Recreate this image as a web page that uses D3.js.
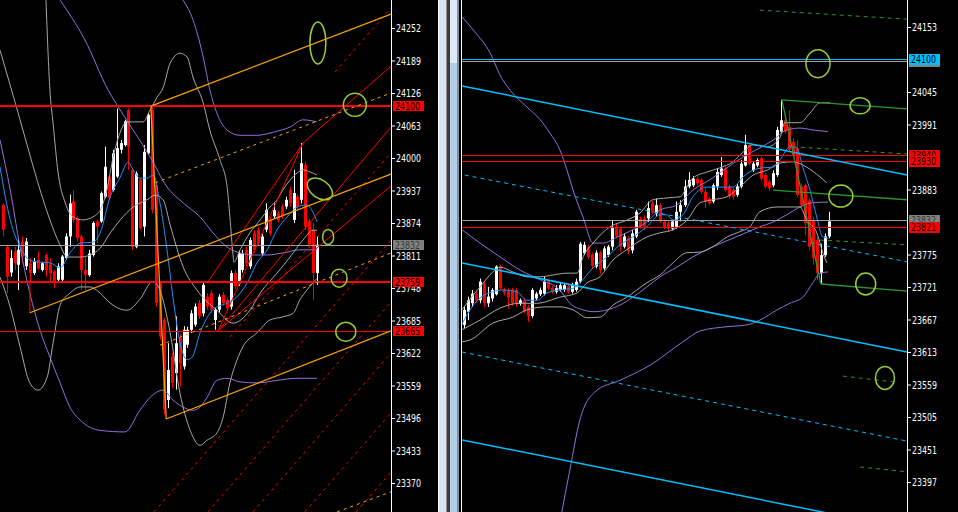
<!DOCTYPE html>
<html>
<head>
<meta charset="utf-8">
<script src="https://cdn.jsdelivr.net/npm/d3@7"></script>
<style>
  body { margin: 0; background: #000; overflow: hidden; }
  svg { display: block; }
</style>
</head>
<body>
<script>
/*global d3 */

var width = 958,
    height = 512;

// ---------------- left chart (higher time frame) ----------------
var leftTicks = [24252, 24189, 24126, 24063, 24000, 23937, 23874, 23811, 23748, 23685, 23622, 23559, 23496, 23433, 23370];

// [open, high, low, close]
var leftCandles = [
    [23909,23912,23848,23861],[23828,23832,23738,23770],[23778,23822,23770,23806],[23819,23828,23783,23796],
    [23793,23845,23744,23822],[23838,23848,23796,23809],[23790,23845,23783,23838],[23796,23806,23757,23777],
    [23777,23806,23773,23799],[23803,23819,23783,23786],[23783,23799,23780,23796],[23812,23815,23770,23783],
    [23796,23806,23761,23777],[23780,23783,23748,23761],[23764,23796,23761,23790],[23764,23812,23761,23809],
    [23806,23854,23803,23848],[23848,23929,23828,23912],[23916,23938,23874,23880],[23883,23887,23838,23845],
    [23848,23851,23744,23783],[23783,23809,23744,23773],[23773,23822,23770,23815],[23812,23877,23809,23874],
    [23877,23880,23835,23867],[23877,23935,23874,23932],[23925,24022,23922,23983],[23964,23967,23919,23922],
    [23938,24016,23935,24009],[23964,24096,23961,24019],[24016,24035,24009,24029],[24025,24074,24022,24071],
    [24093,24096,23977,24022],[23977,23980,23822,23828],[23828,23974,23825,23970],[23958,23961,23861,23864],
    [23867,24025,23848,24012],[24009,24087,24006,24084],[24093,24100,23893,23899],[23948,23951,23712,23719],
    [23757,23760,23648,23654],[23686,23690,23502,23512],[23531,23641,23515,23589],[23615,23622,23554,23564],
    [23583,23693,23551,23641],[23651,23660,23557,23602],[23596,23674,23590,23667],[23638,23673,23632,23667],
    [23667,23705,23661,23699],[23677,23718,23673,23712],[23719,23725,23688,23693],[23699,23760,23693,23754],
    [23731,23738,23706,23712],[23738,23744,23700,23706],[23686,23710,23667,23706],[23706,23736,23700,23731],
    [23735,23740,23714,23719],[23725,23730,23704,23709],[23712,23782,23706,23777],[23777,23783,23746,23751],
    [23757,23820,23752,23815],[23783,23822,23778,23815],[23822,23828,23790,23796],[23790,23846,23785,23841],
    [23854,23860,23816,23822],[23861,23866,23830,23835],[23815,23853,23810,23848],[23861,23912,23856,23899],
    [23880,23886,23849,23854],[23887,23912,23882,23899],[23893,23898,23875,23880],[23906,23911,23882,23887],
    [23906,23925,23901,23919],[23938,23944,23906,23912],[23880,23977,23874,23932],[23925,23930,23900,23906],
    [23919,24029,23912,23990],[23987,23993,23861,23867],[23877,23882,23826,23832],[23861,23874,23725,23777],
    [23777,23848,23754,23832]
];

// indicator curves, [bar index, price]
var leftMA = [[-0.7,23983],[1.9,23880],[4.4,23828],[6.9,23802],[9.5,23798],[12,23797],[14.6,23787],[17.1,23816],
    [19.7,23835],[23,23837],[24.8,23855],[27.3,23924],[29.9,23963],[31.9,23992],[33.2,23977],[34.9,23961],[36.7,23961],
    [38.3,23967],[40,23913],[41.8,23822],[43.3,23731],[45.1,23642],[46.9,23609],[48.2,23614],[50.2,23661],[53.5,23706],
    [57.1,23719],[59.6,23731],[62.2,23758],[64.7,23797],[67.3,23822],[69.8,23861],[72.4,23886],[74.9,23905],[77.4,23909],
    [79,23894],[80,23876]];
var leftUpperBand = [[11,24306],[12,24132],[12.8,24068],[14.1,23971],[15.9,23913],[17.9,23886],[20.4,23880],[23,23886],
    [24.8,23899],[26.5,23938],[28.1,24002],[29.8,24048],[31.6,24070],[34.2,24070],[35.7,24070],[37.5,24093],[39.3,24118],
    [40.8,24136],[42.6,24184],[45.1,24203],[46.9,24196],[48.4,24157],[51,24107],[52.7,24054],[55.3,23996],[57.1,23944],
    [57.8,23886],[58.6,23812],[58.8,23798],[60.4,23822],[62.9,23855],[65.5,23880],[68,23905],[69.8,23919],[71.3,23938],
    [73.1,23957],[74.9,23971],[76.4,23977],[78.2,23973],[80,23967]];
var leftMidBand = [[-0.7,24209],[1.9,24141],[4.4,24074],[6.9,24006],[9.5,23938],[12,23880],[14.6,23831],[16.4,23808],
    [19.7,23808],[22.2,23812],[24.8,23825],[27.3,23854],[29.9,23880],[33.2,23905],[36.7,23919],[38.8,23928],[40.8,23919],
    [42.6,23870],[45.9,23789],[49.4,23744],[54.5,23705],[58.6,23680],[62.9,23705],[65.5,23738],[69.8,23777],[73.1,23808],
    [76.4,23841],[79,23860],[80,23860]];
var leftLowerBand = [[-0.7,23769],[1.9,23711],[4.4,23634],[6.9,23564],[9,23550],[11.3,23575],[12.8,23641],[14.6,23715],
    [17.1,23738],[19.7,23750],[22.2,23750],[24.8,23738],[27.3,23719],[31.6,23705],[34.9,23726],[38.2,23761],[40,23744],
    [42.6,23661],[45.1,23544],[47.7,23472],[50.2,23443],[52,23453],[54.5,23467],[56.1,23498],[57.8,23564],[59.6,23608],
    [61.1,23634],[64.7,23661],[68,23686],[71.3,23692],[73.9,23699],[75.6,23725],[77.4,23744],[79,23759],[80,23767]];
var leftEnvUpper = [[14.6,24306],[20.9,24229],[26.8,24132],[29.9,24093],[37.5,24002],[41.8,23944],[45.9,23913],
    [50.2,23886],[53.5,23855],[57.1,23827],[60.4,23816],[63.7,23812],[67.3,23812],[71.3,23816],[75.6,23822],[80,23822]];
var leftEnvTop = [[45.9,24306],[48.4,24268],[51,24196],[52.7,24132],[54.5,24087],[57.1,24054],[60.4,24044],[64.7,24044],
    [68.8,24050],[73.1,24060],[76.4,24074],[80,24070]];
var leftEnvLower = [[-0.7,24035],[1.9,23938],[4.4,23827],[6.9,23738],[9.5,23666],[12,23614],[14.6,23564],[17.1,23517],
    [19.7,23492],[24.8,23472],[31.1,23469],[34.9,23511],[37.5,23536],[40.8,23550],[43.3,23531],[45.9,23517],[48.4,23511],
    [50.2,23517],[52,23536],[54.5,23569],[57.1,23573],[60.4,23566],[64.7,23564],[69.8,23569],[74.9,23573],[80,23573]];

// drawn objects
var leftRedLevels = [24100, 23759];
var leftThinRedLevels = [23665];
var leftGrayLevels = [23832];
var leftOrangeSolid = [
    [[37.5,24100],[98.8,24279]],
    [[37.7,24098],[41.6,23494]],
    [[41.6,23494],[98.8,23665]],
    [[6.9,23700],[98.8,23969]]
];
var leftOrangeDashed = [
    [[38.8,23952],[98.8,24126]],
    [[40,23637],[98.8,23816]],
    [[85.1,23314],[98.8,23353]]
];
var leftRedSolid = [
    [[6.9,23759],[6.9,23700]],
    [[52,23758],[76.4,24029]],
    [[54.8,23665],[76.4,24029]],
    [[76.4,24029],[98.8,24178]],
    [[54.8,23665],[98.8,23946]],
    [[54.8,23665],[98.8,24060]]
];
var leftRedDashed = [
    [[84.6,24167],[98.8,24291]],
    [[57.8,23653],[98.8,24010]],
    [[38.5,23314],[98.8,23841]],
    [[52.2,23314],[98.8,23721]],
    [[63.7,23314],[98.8,23622]],
    [[76.9,23314],[98.8,23506]],
    [[89.9,23314],[98.8,23391]]
];
var leftRings = [[80.2,24223],[89.6,24103],[80.7,23940],[82.8,23847],[85.6,23767],[87.3,23663]];
var leftTags = [24100, 23832, 23759, 23665];

// ---------------- right chart (lower time frame) ----------------
// labels hidden under the price tags (24099, 23937, 23829) are left out
var rightTicks = [24153, 24045, 23991, 23883, 23775, 23721, 23667, 23613, 23559, 23505, 23451, 23397];

var rightCandles = [
    [23658,23688,23652,23683],[23680,23705,23666,23699],[23694,23716,23688,23710],[23709,23713,23694,23699],
    [23699,23735,23694,23730],[23727,23730,23688,23694],[23694,23721,23688,23705],[23702,23719,23697,23716],
    [23709,23757,23707,23755],[23755,23758,23716,23719],[23717,23720,23707,23711],[23716,23719,23685,23704],
    [23717,23720,23690,23694],[23716,23719,23688,23694],[23693,23702,23690,23699],[23699,23703,23677,23680],
    [23688,23691,23663,23672],[23673,23719,23670,23716],[23702,23713,23699,23710],[23709,23720,23706,23716],
    [23710,23738,23707,23730],[23730,23733,23716,23719],[23720,23723,23710,23713],[23713,23724,23710,23719],
    [23716,23728,23713,23724],[23716,23727,23713,23724],[23723,23727,23710,23713],[23713,23728,23710,23724],
    [23716,23735,23713,23730],[23730,23796,23727,23793],[23777,23796,23774,23791],[23788,23791,23768,23771],
    [23775,23778,23752,23756],[23755,23782,23752,23778],[23778,23781,23743,23749],[23752,23789,23749,23785],
    [23774,23791,23771,23788],[23788,23832,23782,23821],[23821,23827,23802,23805],[23818,23821,23780,23788],
    [23788,23810,23785,23805],[23802,23806,23776,23780],[23782,23816,23777,23810],[23805,23849,23802,23846],
    [23835,23838,23818,23821],[23835,23840,23816,23821],[23835,23863,23829,23852],[23860,23864,23843,23846],
    [23843,23868,23838,23857],[23857,23860,23827,23830],[23830,23833,23818,23821],[23827,23830,23813,23818],
    [23818,23833,23815,23830],[23821,23863,23818,23846],[23846,23865,23830,23857],[23857,23899,23854,23888],
    [23888,23912,23885,23899],[23890,23905,23887,23901],[23901,23905,23890,23893],[23899,23902,23876,23879],
    [23879,23885,23852,23863],[23868,23871,23857,23860],[23863,23893,23860,23890],[23888,23918,23882,23912],
    [23907,23937,23904,23918],[23918,23921,23879,23882],[23888,23891,23868,23872],[23882,23885,23866,23871],
    [23874,23892,23871,23888],[23888,23932,23885,23926],[23923,23974,23921,23957],[23957,23960,23923,23926],
    [23915,23929,23912,23926],[23923,23935,23920,23932],[23935,23938,23898,23901],[23907,23910,23885,23888],
    [23896,23899,23881,23885],[23890,23915,23887,23910],[23907,23987,23904,23982],[23979,24032,23976,23998],
    [23998,24001,23976,23979],[23987,24015,23946,23949],[23962,23968,23937,23940],[23951,23965,23871,23874],
    [23888,23893,23852,23857],[23890,23893,23807,23827],[23865,23869,23782,23788],[23832,23838,23758,23769],
    [23799,23804,23732,23744],[23744,23793,23727,23774],[23774,23810,23771,23805],[23805,23846,23802,23830]
];

var rightMA = [[-1,23653],[1.5,23683],[4,23703],[7.2,23713],[9.7,23716],[13.2,23713],[15.7,23699],[18.2,23699],
    [20.7,23711],[23.9,23716],[27.2,23719],[28.9,23728],[32.2,23753],[35.7,23771],[38.9,23791],[42.1,23804],[45.6,23821],
    [48.9,23841],[50.6,23841],[52.1,23832],[54.6,23841],[57.1,23871],[60.6,23887],[63.8,23887],[67.1,23887],[69.6,23904],
    [72.1,23915],[74.6,23919],[77.1,23920],[78.8,23932],[81.3,23954],[83,23952],[84.5,23920],[86.3,23882],[88,23837],
    [89.5,23804],[91,23802]];
var rightUpperBand = [[-0.5,23683],[0.7,23694],[4,23721],[7.2,23746],[9,23754],[12.2,23746],[15.7,23738],[19,23738],
    [22.2,23741],[25.7,23744],[28.2,23744],[29.7,23771],[32.2,23794],[36.4,23821],[40.6,23832],[43.9,23844],[47.1,23866],
    [50.6,23869],[53.9,23871],[55.6,23887],[57.1,23902],[60.6,23912],[63.8,23919],[67.1,23929],[69.6,23945],[72.1,23957],
    [75.6,23954],[78.8,23969],[80,23994],[83.8,23994],[86.3,24010],[88.8,24027],[91.3,24027]];
var rightMidBand = [[-0.5,23650],[4,23666],[9,23686],[14,23694],[18.2,23694],[23.9,23704],[28.2,23711],[30.7,23728],
    [33.9,23738],[37.2,23766],[40.6,23783],[45.6,23804],[48.9,23811],[52.1,23816],[55.6,23832],[58.9,23861],[62.1,23866],
    [65.6,23871],[68.8,23887],[72.1,23907],[75.6,23915],[78.8,23927],[82,23929],[85.5,23920],[88.8,23904],[90.5,23894]];
var rightLowerBand = [[-0.5,23630],[1.5,23633],[7.2,23661],[12.2,23671],[15.7,23683],[20.7,23688],[23.9,23688],
    [27.2,23683],[30.7,23670],[33.9,23671],[37.2,23691],[40.6,23704],[45.6,23728],[48.9,23741],[52.1,23761],[55.6,23778],
    [58.9,23779],[62.1,23788],[65.6,23804],[68.8,23813],[71.3,23821],[73.8,23846],[78.1,23854],[83.8,23854],[85.5,23832],
    [88,23811],[89.5,23778],[90.5,23761]];
var rightEnvUpper = [[-0.5,24170],[2.7,24145],[6.5,24110],[9,24073],[11.5,24048],[15.7,24020],[19,23999],[21.4,23977],
    [23.9,23949],[25.7,23915],[27.2,23882],[29.7,23837],[32.2,23794],[34.7,23794],[38.2,23804],[42.1,23816],[45.6,23829],
    [48.9,23849],[53.1,23857],[57.1,23882],[61.3,23899],[65.6,23919],[69.6,23937],[73.8,23952],[77.1,23965],[80.5,23982],
    [83.8,23985],[87,23982],[90.8,23979]];
var rightEnvMid = [[-0.5,23816],[4,23794],[9,23771],[14,23749],[19,23733],[23.9,23716],[26.4,23694],[29.7,23683],
    [32.2,23680],[35.7,23683],[38.9,23691],[42.1,23704],[45.6,23721],[48.9,23738],[53.1,23754],[57.1,23771],[62.1,23788],
    [67.1,23802],[70.6,23812],[73.8,23821],[77.1,23829],[80.5,23841],[83.8,23854],[87,23861],[90.8,23862]];
var rightEnvLower = [[24.4,23347],[26.4,23417],[28.9,23500],[32.7,23547],[38.9,23566],[46.4,23591],[54.6,23630],
    [58.9,23648],[65.6,23655],[70.6,23658],[73.8,23666],[78.1,23683],[81.3,23694],[84.5,23704],[87,23728],[88.8,23744],
    [90.8,23746]];

var rightBlueLevels = [24100];
var rightGrayLevels = [24096, 23832];
var rightRedLevels = [23940, 23930, 23821];
var rightBlueSolid = [
    [[-0.5,24055],[110.5,23907]],
    [[-0.5,23761],[110.5,23613]],
    [[-0.5,23467],[110.5,23319]]
];
var rightBlueDashed = [
    [[0.2,23907],[110.5,23763]],
    [[-0.5,23613],[110.5,23465]]
];
var rightGreenSolid = [
    [[79.3,24032],[110.5,24017]],
    [[79.3,24032],[89,23726]],
    [[89,23726],[110.5,23714]],
    [[77.1,23882],[110.5,23866]]
];
var rightGreenDashed = [
    [[82,23954],[110.5,23942]],
    [[88.8,23799],[110.5,23791]],
    [[73.8,24181],[110.5,24166]],
    [[94.5,23573],[107.5,23563]],
    [[98.8,23422],[110.5,23414]]
];
var rightRings = [[88.3,24092],[98.8,24022],[94,23872],[100.2,23726],[105,23570]];
var rightTags = [24096, 24100, 23940, 23930, 23832, 23821];

// ---------------- drawing ----------------
var svg = d3.select("body")
    .append("svg")
    .attr("width", width)
    .attr("height", height);

svg.append("rect").attr("width", width).attr("height", height).attr("fill", "#000");

var labelFont = "'Liberation Sans Narrow', 'DejaVu Sans Condensed', 'Liberation Sans', sans-serif";

function drawPanel(p) {
    var x = d3.scaleLinear().domain(p.xDomain).range([p.left, p.right]);
    var y = d3.scaleLinear().domain(p.yDomain).range(p.yRange);

    var clip = svg.append("clipPath").attr("id", p.name + "-clip");
    clip.append("rect").attr("x", p.left).attr("y", 0).attr("width", p.right - p.left).attr("height", height);
    var g = svg.append("g").attr("clip-path", "url(#" + p.name + "-clip)");

    // candles: red = down bar, white = up bar
    var bar = g.selectAll(".bar")
        .data(p.candles)
        .enter().append("g")
        .attr("class", "bar");
    bar.append("rect")
        .attr("x", function(d, i) { return Math.round(x(i)); })
        .attr("width", 1)
        .attr("y", function(d) { return y(d[1]); })
        .attr("height", function(d) { return Math.max(1, y(d[2]) - y(d[1])); })
        .attr("fill", function(d) { return d[3] >= d[0] ? "#fff" : "#ff0000"; });
    bar.append("rect")
        .attr("x", function(d, i) { return Math.round(x(i)) - 1; })
        .attr("width", 3)
        .attr("y", function(d) { return y(Math.max(d[0], d[3])); })
        .attr("height", function(d) { return Math.max(1, Math.abs(y(d[0]) - y(d[3]))); })
        .attr("fill", function(d) { return d[3] >= d[0] ? "#fff" : "#ff0000"; });

    // indicator curves
    var curve = d3.line()
        .x(function(d) { return x(d[0]); })
        .y(function(d) { return y(d[1]); })
        .curve(d3.curveMonotoneX);
    p.curves.forEach(function(c) {
        g.append("path").datum(c.data)
            .attr("d", curve)
            .attr("fill", "none")
            .attr("stroke", c.color)
            .attr("stroke-width", 1);
    });

    // horizontal levels
    p.levels.forEach(function(l) {
        l.data.forEach(function(v) {
            var yy = Math.round(y(v)) + (l.w === 1 ? 0.5 : 0);
            g.append("line")
                .attr("x1", p.left).attr("x2", p.right)
                .attr("y1", yy).attr("y2", yy)
                .attr("stroke", l.color)
                .attr("stroke-width", l.w);
        });
    });

    // trend lines, channels, fans
    var seg = d3.line()
        .x(function(d) { return x(d[0]); })
        .y(function(d) { return y(d[1]); });
    p.segments.forEach(function(s) {
        g.selectAll(null).data(s.data).enter().append("path")
            .attr("d", seg)
            .attr("fill", "none")
            .attr("stroke", s.color)
            .attr("stroke-width", s.w)
            .attr("stroke-dasharray", s.dash || null);
    });

    // hand drawn rings
    g.selectAll(".ring").data(p.rings).enter().append("ellipse")
        .attr("class", "ring")
        .attr("cx", function(d) { return x(d[0]); })
        .attr("cy", function(d) { return y(d[1]); })
        .attr("rx", function(d, i) { return p.ringSize[i][0]; })
        .attr("ry", function(d, i) { return p.ringSize[i][1]; })
        .attr("transform", function(d, i) {
            return "rotate(" + p.ringSize[i][2] + "," + x(d[0]) + "," + y(d[1]) + ")";
        })
        .attr("fill", "none")
        .attr("stroke", "#9acd32")
        .attr("stroke-width", 1.5);

    // price axis
    var axis = d3.axisRight(y)
        .tickValues(p.ticks)
        .tickSize(4)
        .tickPadding(1)
        .tickFormat(d3.format("d"));
    var ag = svg.append("g")
        .attr("transform", "translate(" + p.right + ",0)")
        .call(axis);
    ag.select(".domain").remove();
    ag.selectAll("line").attr("stroke", "#fff");
    ag.selectAll("text")
        .attr("fill", "#fff")
        .attr("font-family", labelFont)
        .attr("font-size", 11)
        .attr("textLength", 25)
        .attr("lengthAdjust", "spacingAndGlyphs");
    svg.append("line")
        .attr("x1", p.right + 0.5).attr("x2", p.right + 0.5)
        .attr("y1", 0).attr("y2", height)
        .attr("stroke", "#fff");

    // price tags on the axis
    var tag = svg.selectAll(null).data(p.tags).enter().append("g")
        .attr("transform", function(d) { return "translate(" + (p.right + 2) + "," + Math.round(y(d)) + ")"; });
    tag.append("rect")
        .attr("x", 0).attr("y", -5)
        .attr("width", 31).attr("height", p.tagH)
        .attr("fill", function(d) { return p.tagColor(d); });
    tag.filter(function(d) { return p.hiddenTags.indexOf(d) < 0; })
        .append("text")
        .attr("x", 2).attr("y", p.tagH / 2 - 5)
        .attr("dy", "0.36em")
        .attr("fill", function(d) { return p.tagColor(d) === "#808080" ? "#3a3a3a" : "#000"; })
        .attr("font-family", labelFont)
        .attr("font-size", 11)
        .attr("textLength", 25)
        .attr("lengthAdjust", "spacingAndGlyphs")
        .text(function(d) { return d; });
}

drawPanel({
    name: "left",
    left: 0, right: 391,
    xDomain: [-0.7, 98.8],
    yDomain: [23370, 24252], yRange: [483, 28],
    ticks: leftTicks,
    candles: leftCandles,
    curves: [
        { data: leftEnvUpper, color: "#9370db" },
        { data: leftEnvTop, color: "#9370db" },
        { data: leftEnvLower, color: "#9370db" },
        { data: leftUpperBand, color: "#a8a8a8" },
        { data: leftMidBand, color: "#a8a8a8" },
        { data: leftLowerBand, color: "#a8a8a8" },
        { data: leftMA, color: "#1e90ff" }
    ],
    levels: [
        { data: leftGrayLevels, color: "#a0a0a0", w: 1 },
        { data: leftThinRedLevels, color: "#ff0000", w: 1 },
        { data: leftRedLevels, color: "#ff0000", w: 2 }
    ],
    segments: [
        { data: leftRedDashed, color: "#ff0000", w: 1, dash: "3,4" },
        { data: leftRedSolid, color: "#ff0000", w: 1 },
        { data: leftOrangeDashed, color: "#ffa500", w: 1, dash: "3,4" },
        { data: leftOrangeSolid, color: "#ffa500", w: 1.2 }
    ],
    rings: leftRings,
    ringSize: [[8, 21, 0], [11.5, 11.5, 0], [14, 9, 35], [5.5, 7.5, 0], [8, 9, 0], [10, 9.5, 0]],
    tags: leftTags,
    hiddenTags: [],
    tagH: 10,
    tagColor: function(d) { return d === 23832 ? "#808080" : "#ff0000"; }
});

drawPanel({
    name: "right",
    left: 462, right: 907,
    xDomain: [-0.5, 110.5],
    yDomain: [23397, 24153], yRange: [482, 27],
    ticks: rightTicks,
    candles: rightCandles,
    curves: [
        { data: rightEnvUpper, color: "#9370db" },
        { data: rightEnvMid, color: "#9370db" },
        { data: rightEnvLower, color: "#9370db" },
        { data: rightUpperBand, color: "#a8a8a8" },
        { data: rightMidBand, color: "#a8a8a8" },
        { data: rightLowerBand, color: "#a8a8a8" },
        { data: rightMA, color: "#1e90ff" }
    ],
    levels: [
        { data: rightGrayLevels, color: "#a0a0a0", w: 1 },
        { data: rightRedLevels, color: "#ff0000", w: 1 },
        { data: rightBlueLevels, color: "#00bfff", w: 1 }
    ],
    segments: [
        { data: rightBlueDashed, color: "#00bfff", w: 1, dash: "4,4" },
        { data: rightBlueSolid, color: "#00bfff", w: 1.5 },
        { data: rightGreenDashed, color: "#2e962e", w: 1, dash: "4,4" },
        { data: rightGreenSolid, color: "#2e962e", w: 1.3 }
    ],
    rings: rightRings,
    ringSize: [[12, 14, 0], [10, 8, 0], [12, 11, 0], [10, 11, 0], [9.5, 11.5, 0]],
    tags: rightTags,
    hiddenTags: [24096],
    tagH: 11,
    tagColor: function(d) {
        if (d === 24100) return "#00bfff";
        if (d === 24096 || d === 23832) return "#808080";
        return "#ff0000";
    }
});

// window splitter between the two charts
var splitter = [
    { x: 438, w: 1, c: "#ffffff" },
    { x: 439, w: 7, c: "#d6e4f2" },
    { x: 446, w: 1, c: "#8c8c8c" },
    { x: 447, w: 3, c: "#3c3c3c" },
    { x: 450, w: 7, c: "#b6cde6" },
    { x: 457, w: 2, c: "#7d90a6" },
    { x: 459, w: 2, c: "#000000" },
    { x: 461, w: 1, c: "#ffffff" }
];
svg.selectAll(".split").data(splitter).enter().append("rect")
    .attr("class", "split")
    .attr("x", function(d) { return d.x; })
    .attr("width", function(d) { return d.w; })
    .attr("y", 0).attr("height", height)
    .attr("fill", function(d) { return d.c; });
// scrollbar thumb
svg.append("rect").attr("x", 450).attr("y", 0).attr("width", 7).attr("height", 63).attr("fill", "#dde9f5");
</script>
</body>
</html>
